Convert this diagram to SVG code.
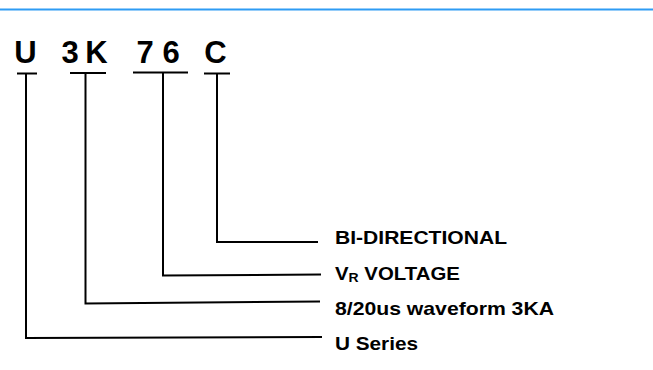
<svg xmlns="http://www.w3.org/2000/svg" width="653" height="370" viewBox="0 0 653 370">
<style>
.big{font-family:"Liberation Sans",Arial,sans-serif;font-weight:bold;font-size:31px;fill:#000;text-anchor:middle}
.lbl{font-family:"Liberation Sans",Arial,sans-serif;font-weight:bold;font-size:19px;fill:#000}
.ln{stroke:#000;fill:none;stroke-width:2}
</style>
<rect width="653" height="370" fill="#fff"/>
<line x1="0" y1="9.5" x2="653" y2="9.5" stroke="#2e9cf4" stroke-width="2.2"/>
<g id="code">
<text class="big" x="25.5" y="63">U</text>
<text class="big" x="70" y="63">3</text>
<text class="big" x="96.5" y="63">K</text>
<text class="big" x="145" y="63">7</text>
<text class="big" x="171" y="63">6</text>
<text class="big" x="215.5" y="63">C</text>
</g>
<g id="connectors">
<line class="ln" x1="17" y1="73.5" x2="37" y2="73.5" stroke-width="1.6"/>
<line class="ln" x1="70" y1="73" x2="106" y2="73" stroke-width="2.6"/>
<line class="ln" x1="133" y1="72.5" x2="188" y2="72.5" stroke-width="1.6"/>
<line class="ln" x1="204" y1="73.5" x2="230" y2="73.5" stroke-width="1.6"/>
<polyline class="ln" points="26,74 26,338 322,337" stroke-width="2.8"/>
<polyline class="ln" points="85.5,73 85.5,303.5 320,301.5"/>
<polyline class="ln" points="163,73 163,275.5 321,274.5"/>
<polyline class="ln" points="217,74 217,242 318,242"/>
</g>
<g id="labels">
<text id="bi" class="lbl" x="335" y="244" textLength="172" lengthAdjust="spacingAndGlyphs">BI-DIRECTIONAL</text>
<text id="vr" class="lbl" transform="translate(335,280) scale(1.074,1)" x="0" y="0">V<tspan font-size="13" dy="2">R</tspan><tspan dy="-2"> VOLTAGE</tspan></text>
<text id="wave" class="lbl" x="335" y="315" textLength="219" lengthAdjust="spacingAndGlyphs">8/20us waveform 3KA</text>
<text id="useries" class="lbl" x="335" y="350" textLength="83" lengthAdjust="spacingAndGlyphs">U Series</text>
</g>
</svg>
